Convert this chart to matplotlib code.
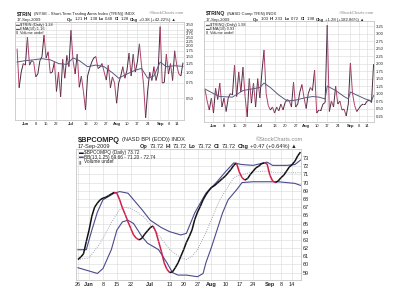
import numpy as np
import matplotlib.pyplot as plt
from matplotlib.collections import LineCollection
from matplotlib.ticker import NullLocator

plt.rcParams['font.family'] = ['Liberation Sans', 'DejaVu Sans']

W, H = 400, 300

# trading sessions 26-May-2009 .. 17-Sep-2009 (81 days), x = session index
tick_idx = [4, 9, 14, 19, 26, 33, 38, 43, 48, 53, 58, 63, 69, 73, 77]
tick_lbl = ["Jun", "8", "15", "22", "Jul", "13", "20", "27", "Aug", "10", "17", "24", "Sep", "8", "14"]
months = {"Jun", "Jul", "Aug", "Sep"}

trin = [1.85, 0.66, 1.0, 1.25, 1.2, 2.5, 1.2, 1.35, 1.3, 0.88,
        0.95, 1.35, 1.5, 2.65, 1.45, 1.7, 0.97, 1.0, 1.3, 0.6,
        1.0, 0.52, 1.4, 0.85, 1.55, 1.15, 3.0, 1.35, 0.95, 1.6,
        0.67, 0.9, 0.6, 0.37, 0.9, 1.1, 1.3, 1.45, 1.5, 1.1,
        1.14, 1.25, 1.0, 0.81, 1.2, 0.66, 0.88, 0.75, 0.44, 0.75,
        0.9, 1.15, 0.85, 1.05, 1.65, 0.9, 1.6, 1.0, 1.3, 2.1,
        1.2, 0.72, 0.3, 0.62, 1.0, 0.8, 1.15, 0.8, 1.0, 3.3,
        0.75, 0.76, 1.6, 0.95, 1.25, 0.8, 1.75, 1.2, 0.95, 0.90, 1.28]
trin_ema_x = [0, 4, 8, 12, 16, 20, 24, 27, 30, 34, 38, 42, 46, 49, 53, 57, 60, 63, 66, 69, 72, 76, 80]
trin_ema = [1.30, 1.35, 1.38, 1.42, 1.38, 1.25, 1.22, 1.45, 1.35, 1.15, 1.20, 1.15,
            0.98, 0.85, 0.95, 1.05, 1.10, 0.85, 0.90, 1.30, 1.15, 1.18, 1.16]
trin_ticks = [0.5, 0.75, 1.0, 1.25, 1.5, 1.75, 2.0, 2.25, 2.5, 2.75, 3.0, 3.5]

trinq = [1.12, 0.75, 0.45, 0.85, 0.35, 1.18, 0.8, 1.35, 0.55, 0.85,
         0.4, 0.85, 1.0, 0.95, 1.95, 0.9, 1.72, 1.05, 1.88, 0.9,
         0.22, 1.5, 0.68, 1.35, 0.55, 1.5, 0.85, 1.72, 2.45, 1.0,
         0.6, 0.45, 0.55, 0.35, 0.55, 0.42, 0.65, 0.45, 0.7, 0.8,
         0.75, 0.55, 1.38, 0.55, 0.65, 1.05, 1.3, 0.85, 0.5, 1.0,
         1.2, 1.1, 1.78, 0.35, 0.45, 0.45, 0.65, 0.7, 3.28, 0.4,
         0.75, 0.55, 1.25, 0.65, 0.75, 0.45, 0.48, 0.25, 0.65, 2.02,
         1.0, 0.6, 0.4, 0.5, 0.6, 0.65, 0.65, 0.75, 0.78, 0.70, 1.98]
trinq_ema_x = [0, 4, 7, 13, 18, 22, 26, 28, 31, 35, 39, 43, 47, 51, 54, 57, 58, 62, 66, 68, 69, 72, 76, 79, 80]
trinq_ema = [1.15, 1.0, 0.9, 0.88, 1.1, 1.15, 1.2, 1.35, 1.2, 0.95, 0.75, 0.78, 0.85,
             0.9, 0.88, 0.82, 1.25, 1.1, 0.9, 0.82, 1.05, 0.95, 0.82, 0.75, 0.93]
trinq_ticks = [0.25, 0.5, 0.75, 1.0, 1.25, 1.5, 1.75, 2.0, 2.25, 2.5, 2.75, 3.0, 3.25]

bpi = [60.6, 60.9, 61.3, 62.8, 64.2, 65.9, 67.0, 67.5, 67.9, 68.1,
       68.2, 68.4, 68.6, 68.8, 68.7, 67.9, 66.9, 66.1, 65.2, 64.4,
       63.6, 63.2, 63.0, 63.2, 63.7, 64.1, 64.5, 64.7, 64.0, 62.8,
       61.6, 60.2, 59.4, 59.0, 59.1, 59.6, 60.2, 61.0, 61.8, 62.7,
       63.4, 64.2, 65.5, 66.4, 67.1, 67.9, 68.5, 69.0, 69.4, 69.6,
       69.9, 70.2, 70.5, 70.8, 71.2, 71.6, 72.1, 72.4, 71.3, 70.6,
       70.3, 70.5, 71.0, 71.4, 71.8, 72.0, 72.3, 72.4, 72.3, 70.9,
       70.2, 70.0, 70.2, 70.6, 70.9, 71.4, 71.9, 72.2, 72.6, 73.25, 73.72]
bb_up_x = [0, 3, 5, 7, 9, 13, 15, 18, 20, 23, 26, 30, 33, 37, 39, 42, 46, 50, 53, 56, 59, 63, 68, 70, 75, 78, 80]
bb_up = [61.8, 61.8, 64.2, 66.4, 67.9, 68.7, 68.9, 68.7, 67.9, 66.7, 65.4, 64.5, 64.0, 63.6,
         63.8, 66.3, 68.7, 70.1, 71.3, 72.4, 72.2, 72.1, 72.5, 72.1, 72.1, 72.2, 72.74]
bb_mid_x = [0, 4, 8, 12, 15, 17, 20, 24, 29, 33, 37, 39, 41, 43, 46, 49, 51, 54, 56, 58, 63, 68, 71, 76, 80]
bb_mid = [60.6, 60.8, 62.6, 65.1, 66.7, 67.0, 66.7, 65.7, 63.6, 61.8, 60.8, 60.6, 61.0,
          61.8, 63.9, 66.3, 67.9, 69.5, 70.6, 70.9, 71.3, 71.4, 71.2, 71.2, 71.2]
bb_lo_x = [0, 4, 7, 9, 12, 14, 16, 18, 20, 23, 25, 29, 32, 34, 36, 39, 41, 43, 45, 46,
           48, 50, 52, 54, 57, 59, 63, 68, 72, 78, 80]
bb_lo = [59.6, 59.2, 58.9, 59.5, 61.8, 64.2, 65.2, 65.4, 65.0, 63.4, 62.6, 61.8, 60.2, 59.0,
         58.7, 58.7, 58.6, 58.5, 58.9, 60.2, 62.1, 64.2, 66.3, 67.9, 69.1, 70.0, 70.1, 70.1,
         70.1, 69.9, 69.66]
bpi_ticks = list(range(59, 74))

fig = plt.figure(figsize=(4, 3), dpi=100)
fig.patch.set_facecolor('white')
rend = fig.canvas.get_renderer()


def box(l, t, r, b):
    return fig.add_axes([l / W, 1 - b / H, (r - l) / W, (b - t) / H])


def updown(ax, y, up, down, lw):
    x = np.arange(len(y))
    pts = np.column_stack([x, y])
    segs = np.stack([pts[:-1], pts[1:]], axis=1)
    cols = [up if b >= a else down for a, b in zip(y[:-1], y[1:])]
    ax.add_collection(LineCollection(segs, colors=cols, linewidths=lw, zorder=4))


def style(ax, xlim, ylim, yt, yfmt, fs, xt, xl):
    ax.set_xlim(*xlim)
    ax.set_ylim(*ylim)
    ax.yaxis.tick_right()
    ax.set_yticks(yt)
    ax.set_yticklabels([yfmt.format(v) for v in yt])
    ax.yaxis.set_minor_locator(NullLocator())
    ax.set_xticks(xt)
    ax.set_xticklabels(xl)
    for t in ax.get_xticklabels():
        if t.get_text() in months:
            t.set_fontweight('bold')
    ax.tick_params(length=0, labelsize=fs, pad=1.5, colors='#222222')
    ax.grid(color='#d9d9d9', lw=0.4)
    ax.set_axisbelow(True)
    for s in ax.spines.values():
        s.set_color('#bbbbbb')
        s.set_linewidth(0.5)


def runs(x, y, parts, color='#222222'):
    # parts: (text, size, weight), drawn left to right
    for s, size, w in parts:
        t = fig.text(x / W, 1 - y / H, s, fontsize=size, fontweight=w, va='center', color=color)
        x += t.get_window_extent(rend).width + size * 0.45


def rtext(x, y, s, size, color='#888888'):
    fig.text(x / W, 1 - y / H, s, fontsize=size, ha='right', va='center', color=color)


def header(x0, x1, y, name, sub, ohlc, nsz, ssz, dx_ohlc):
    runs(x0, y, [(name, nsz, 'bold'), (sub, ssz, 'normal')])
    rtext(x1, y - 0.5, "©StockCharts.com", ssz)
    runs(x0, y + 5.5 if nsz < 5 else y + 6.5, [("17-Sep-2009", ssz, 'normal')])
    parts = []
    for k, v in ohlc:
        parts.append((k, ssz, 'bold'))
        parts.append((v, ssz, 'normal'))
    runs(dx_ohlc, y + 5.5 if nsz < 5 else y + 6.5, parts)


def legend(ax, x, y, rows, fs, dy):
    for i, (mark, col, s) in enumerate(rows):
        yy = 1 - (y + i * dy) / H
        fig.text(x / W, yy, mark, fontsize=fs, color=col, va='center', zorder=6)
        fig.text((x + 4.5) / W, yy, s, fontsize=fs, color='#222222', va='center', zorder=6)


# $TRIN
ax1 = box(15, 22, 184, 120)
ax1.set_yscale('log')
updown(ax1, trin, '#4a2a40', '#b0406a', 0.7)
ax1.plot(trin_ema_x, trin_ema, color='#5a5a80', lw=0.7, zorder=5)
style(ax1, (-1, 80.5), (0.283, 3.73), trin_ticks, "{:.2f}", 3, tick_idx, tick_lbl)
header(17, 184, 14, "$TRIN", "(NYSE - Short-Term Trading Arms Index (TRIN)) INDX",
       [("Op", "1.21"), ("Hi", "1.38"), ("Lo", "0.48"), ("Cl", "1.28"), ("Chg", "+0.38 (+42.22%) ▲")],
       3.8, 3.1, 67)
legend(ax1, 16, 25, [("▬", '#b0406a', "$TRIN (Daily) 1.28"), ("▬", '#5a5a80', "EMA(10) 1.16"),
                     ("▮", '#888888', "Volume undef")], 2.8, 4)

# $TRINQ
ax2 = box(204, 21, 374, 122)
updown(ax2, trinq, '#4a2a40', '#b0406a', 0.7)
ax2.plot(trinq_ema_x, trinq_ema, color='#5a5a80', lw=0.7, zorder=5)
style(ax2, (-0.5, 80.2), (0.05, 3.42), trinq_ticks, "{:.2f}", 3, tick_idx, tick_lbl)
header(206, 374, 14, "$TRINQ", "(NASD Comp TRIN) INDX",
       [("Op", "1.03"), ("Hi", "2.33"), ("Lo", "0.72"), ("Cl", "1.98"), ("Chg", "+1.28 (+182.86%) ▲")],
       3.8, 3.1, 253)
legend(ax2, 206, 25, [("▬", '#b0406a', "$TRINQ (Daily) 1.98"), ("▬", '#5a5a80', "EMA(10) 0.93"),
                      ("▮", '#888888', "Volume undef")], 2.8, 4)

# $BPCOMPQ
ax3 = box(76, 149, 301, 280)
ax3.plot(bb_up_x, bb_up, color='#4b4b8c', lw=0.8, zorder=3)
ax3.plot(bb_lo_x, bb_lo, color='#4b4b8c', lw=0.8, zorder=3)
ax3.plot(bb_mid_x, bb_mid, color='#8a8aa8', lw=0.6, ls=':', zorder=3)
updown(ax3, bpi, '#111111', '#d0204a', 1.1)
style(ax3, (-0.7, 80.2), (58.1, 74.1), bpi_ticks, "{:d}", 4, [0] + tick_idx, ["26"] + tick_lbl)
header(78, 303, 140, "$BPCOMPQ", "(NASD BPI (EOD)) INDX",
       [("Op", "73.72"), ("Hi", "73.72"), ("Lo", "73.72"), ("Cl", "73.72"), ("Chg", "+0.47 (+0.64%) ▲")],
       5.3, 4.1, 140)
legend(ax3, 79, 152.5, [("▬", '#111111', "$BPCOMPQ (Daily) 73.72"),
                        ("▬", '#4b4b8c', "BB(13,1.25) 69.66 - 71.20 - 72.74"),
                        ("▮", '#888888', "Volume undef")], 3.4, 4.5)

fig.savefig("out.png", dpi=100)
